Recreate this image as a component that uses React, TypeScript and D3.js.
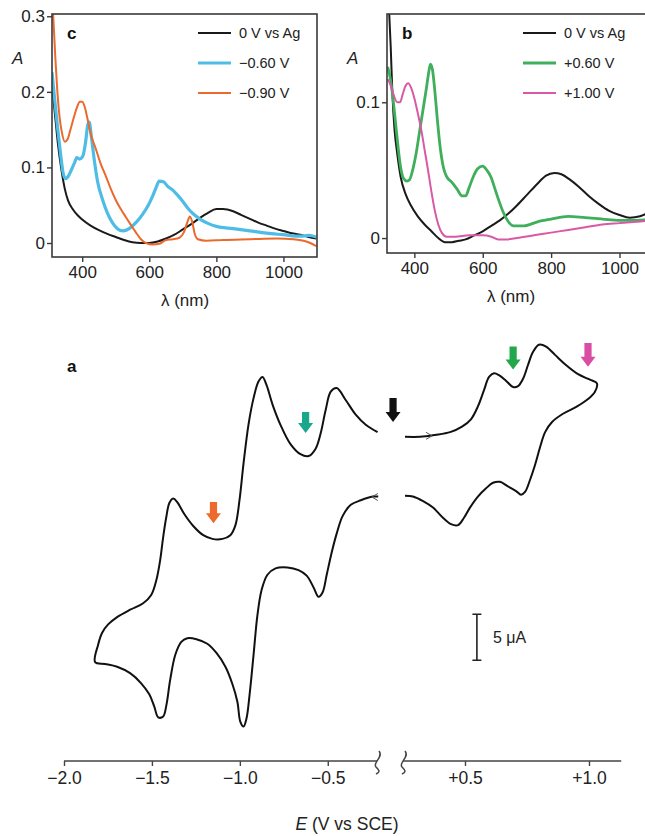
import React, { useEffect, useRef } from 'react';
import * as d3 from 'd3';

const W = 645;
const H = 836;
const FONT = '"Liberation Sans", Arial, Helvetica, sans-serif';

// panel c spectra, [wavelength nm, absorbance]
const cZero = [[312, 0.2], [320, 0.165], [328, 0.13], [338, 0.097], [348, 0.072], [358, 0.056], [373, 0.044], [388, 0.036], [400, 0.031], [425, 0.023], [450, 0.017], [475, 0.012], [500, 0.008], [525, 0.004], [550, 0.001], [575, 0.0], [600, 0.0], [625, 0.002], [650, 0.006], [675, 0.011], [700, 0.018], [725, 0.025], [750, 0.033], [775, 0.04], [800, 0.045], [820, 0.045], [850, 0.042], [875, 0.037], [900, 0.032], [925, 0.027], [950, 0.023], [975, 0.019], [1000, 0.016], [1025, 0.013], [1050, 0.011], [1075, 0.008], [1098, 0.006]];
const cMinus060 = [[310, 0.226], [318, 0.19], [326, 0.155], [335, 0.12], [343, 0.093], [350, 0.085], [358, 0.088], [368, 0.097], [377, 0.106], [384, 0.113], [392, 0.111], [402, 0.115], [410, 0.133], [417, 0.157], [421, 0.16], [427, 0.142], [436, 0.11], [446, 0.081], [461, 0.057], [475, 0.04], [490, 0.027], [505, 0.019], [522, 0.016], [540, 0.019], [560, 0.027], [580, 0.038], [597, 0.05], [610, 0.062], [620, 0.073], [630, 0.082], [642, 0.081], [655, 0.075], [670, 0.07], [685, 0.063], [700, 0.055], [715, 0.046], [730, 0.039], [750, 0.032], [775, 0.026], [800, 0.022], [850, 0.019], [900, 0.016], [950, 0.013], [1000, 0.011], [1050, 0.009], [1075, 0.01], [1098, 0.008]];
const cMinus090 = [[313, 0.305], [316, 0.28], [320, 0.245], [326, 0.2], [333, 0.165], [340, 0.145], [348, 0.134], [356, 0.137], [365, 0.15], [375, 0.166], [385, 0.18], [393, 0.187], [400, 0.187], [407, 0.181], [415, 0.166], [425, 0.145], [441, 0.124], [455, 0.105], [471, 0.088], [485, 0.072], [500, 0.057], [515, 0.045], [529, 0.035], [545, 0.024], [560, 0.014], [575, 0.005], [590, 0.0], [610, -0.002], [630, -0.001], [650, 0.004], [670, 0.005], [690, 0.007], [703, 0.014], [713, 0.027], [721, 0.035], [728, 0.028], [735, 0.013], [745, 0.005], [770, 0.003], [820, 0.004], [900, 0.005], [980, 0.006], [1030, 0.005], [1060, 0.003], [1080, 0.0], [1098, -0.004]];

// panel b spectra
const bZero = [[326, 0.168], [331, 0.14], [336, 0.105], [342, 0.08], [350, 0.062], [360, 0.045], [375, 0.032], [390, 0.024], [410, 0.016], [430, 0.01], [450, 0.005], [470, 0.0], [490, -0.003], [510, -0.003], [530, -0.002], [550, -0.001], [575, 0.002], [600, 0.005], [625, 0.009], [650, 0.013], [675, 0.018], [700, 0.024], [730, 0.032], [760, 0.04], [785, 0.046], [810, 0.048], [830, 0.047], [855, 0.043], [880, 0.038], [910, 0.031], [940, 0.025], [970, 0.02], [1000, 0.017], [1030, 0.015], [1060, 0.016], [1080, 0.018], [1100, 0.019]];
const bPlus060 = [[322, 0.126], [330, 0.117], [337, 0.104], [345, 0.085], [352, 0.068], [360, 0.052], [368, 0.044], [378, 0.042], [386, 0.043], [395, 0.05], [405, 0.062], [415, 0.078], [425, 0.094], [435, 0.11], [442, 0.122], [447, 0.128], [453, 0.124], [460, 0.108], [467, 0.088], [475, 0.068], [485, 0.052], [495, 0.045], [510, 0.041], [525, 0.036], [540, 0.031], [550, 0.031], [560, 0.037], [572, 0.045], [585, 0.051], [600, 0.053], [612, 0.05], [624, 0.045], [636, 0.036], [648, 0.027], [660, 0.019], [675, 0.012], [690, 0.009], [720, 0.009], [760, 0.012], [800, 0.014], [850, 0.016], [900, 0.015], [950, 0.014], [1000, 0.013], [1050, 0.013], [1100, 0.014]];
const bPlus100 = [[322, 0.117], [330, 0.113], [340, 0.105], [350, 0.1], [358, 0.1], [366, 0.106], [374, 0.112], [382, 0.114], [390, 0.111], [400, 0.103], [410, 0.092], [420, 0.08], [430, 0.065], [440, 0.05], [450, 0.034], [460, 0.02], [470, 0.01], [480, 0.004], [495, 0.001], [520, 0.001], [560, 0.002], [600, 0.002], [625, 0.001], [645, -0.001], [670, -0.001], [700, 0.0], [750, 0.002], [800, 0.004], [850, 0.006], [900, 0.008], [950, 0.01], [1000, 0.011], [1050, 0.012], [1100, 0.013]];

const cLegend = ['0 V vs Ag', '\u22120.60 V', '\u22120.90 V'];
const bLegend = ['0 V vs Ag', '+0.60 V', '+1.00 V'];
const lambdaTicks = [400, 600, 800, 1000];
const cATicks = [0, 0.1, 0.2, 0.3];
const bATicks = [0, 0.1];

// panel a cyclic voltammogram, [E V vs SCE, current uA]
const cvNegative = [[-0.21, 5.2], [-0.284, 6.0], [-0.341, 7.1], [-0.398, 8.7], [-0.449, 10.0], [-0.483, 9.6], [-0.512, 7.6], [-0.54, 5.1], [-0.569, 3.4], [-0.609, 2.6], [-0.655, 2.8], [-0.712, 3.9], [-0.769, 6.0], [-0.814, 8.2], [-0.848, 10.3], [-0.871, 11.2], [-0.894, 10.7], [-0.922, 8.9], [-0.951, 6.0], [-0.979, 1.8], [-1.002, -2.2], [-1.025, -4.9], [-1.054, -6.0], [-1.099, -6.4], [-1.156, -6.4], [-1.208, -6.0], [-1.265, -5.0], [-1.316, -3.7], [-1.356, -2.4], [-1.379, -2.0], [-1.401, -2.5], [-1.418, -4.0], [-1.436, -6.2], [-1.453, -8.7], [-1.475, -10.9], [-1.504, -12.5], [-1.55, -13.4], [-1.624, -14.1], [-1.698, -14.9], [-1.749, -15.7], [-1.783, -16.6], [-1.806, -17.9], [-1.823, -19.8], [-1.766, -20.0], [-1.698, -20.3], [-1.624, -21.0], [-1.561, -22.1], [-1.515, -23.3], [-1.487, -24.6], [-1.464, -25.8], [-1.436, -25.7], [-1.418, -24.5], [-1.396, -21.7], [-1.367, -19.0], [-1.333, -17.6], [-1.299, -17.2], [-1.247, -17.3], [-1.185, -17.8], [-1.133, -18.8], [-1.082, -20.3], [-1.042, -22.2], [-1.014, -24.1], [-0.997, -26.3], [-0.979, -26.8], [-0.962, -25.9], [-0.945, -23.4], [-0.922, -19.0], [-0.9, -14.7], [-0.877, -12.0], [-0.843, -10.3], [-0.797, -9.6], [-0.729, -9.5], [-0.666, -9.8], [-0.62, -10.4], [-0.58, -11.7], [-0.552, -12.7], [-0.529, -12.2], [-0.506, -10.3], [-0.478, -7.9], [-0.449, -5.8], [-0.415, -3.9], [-0.369, -2.7], [-0.312, -2.2], [-0.244, -1.8], [-0.198, -1.8]];
const cvPositive = [[0.258, 4.7], [0.319, 4.7], [0.379, 4.9], [0.44, 5.2], [0.488, 5.8], [0.524, 6.6], [0.552, 8.0], [0.577, 9.8], [0.597, 11.2], [0.617, 11.6], [0.637, 11.4], [0.665, 10.8], [0.694, 10.1], [0.714, 10.2], [0.734, 11.0], [0.754, 12.5], [0.774, 13.9], [0.798, 14.7], [0.827, 14.5], [0.863, 13.6], [0.907, 12.5], [0.956, 11.5], [1.004, 10.9], [1.032, 10.5], [1.024, 9.6], [0.996, 8.8], [0.952, 8.0], [0.895, 7.2], [0.851, 6.3], [0.823, 5.2], [0.802, 3.5], [0.782, 1.6], [0.762, 0.0], [0.742, -1.3], [0.726, -1.6], [0.706, -1.2], [0.673, -0.7], [0.641, -0.2], [0.613, -0.3], [0.585, -0.9], [0.552, -1.8], [0.52, -3.0], [0.496, -4.1], [0.472, -4.9], [0.444, -4.8], [0.411, -4.1], [0.371, -3.0], [0.331, -2.3], [0.29, -1.8], [0.258, -1.7]];

const eTicks = [-2, -1.5, -1, -0.5, 0.5, 1];
const eTickLabels = ['\u22122.0', '\u22121.5', '\u22121.0', '\u22120.5', '+0.5', '+1.0'];
// potential markers: [E, current at tail, current at tip]
const markerE = [-1.15, -0.626, 0.07, 0.694, 0.996];
const markerTop = [-2.4, 7.4, 8.9, 14.5, 14.9];
const markerTip = [-4.7, 5.1, 6.3, 12.0, 12.3];
const markerColors = ['#ee6a2c', '#1aa88c', '#111111', '#22a74c', '#d94ea3'];

const cColors = ['#1a1a1a', '#4ebde6', '#ea6a2e'];
const bColors = ['#1a1a1a', '#3faf5c', '#d959a6'];

const App = () => {
  const svgRef = useRef(null);

  useEffect(() => {
    const svg = d3.select(svgRef.current);
    svg.selectAll('*').remove();

    const drawSpectra = (id, box, xDomain, yDomain, yTicks, series, colors, widths, legend, letter) => {
      const x = d3.scaleLinear().domain(xDomain).range([box.left, box.right]);
      const y = d3.scaleLinear().domain(yDomain).range([box.bottom, box.top]);
      const g = svg.append('g');

      g.append('clipPath').attr('id', id)
        .append('rect')
        .attr('x', box.left).attr('y', box.top)
        .attr('width', box.right - box.left).attr('height', box.bottom - box.top);

      const line = d3.line().x(d => x(d[0])).y(d => y(d[1])).curve(d3.curveMonotoneX);
      const lines = g.append('g').attr('clip-path', `url(#${id})`);
      series.forEach((s, k) => {
        lines.append('path')
          .attr('d', line(s))
          .attr('fill', 'none')
          .attr('stroke', colors[k])
          .attr('stroke-width', widths[k])
          .attr('stroke-linejoin', 'round');
      });

      g.append('rect')
        .attr('x', box.left).attr('y', box.top)
        .attr('width', box.right - box.left).attr('height', box.bottom - box.top)
        .attr('fill', 'none').attr('stroke', '#3a3a3a').attr('stroke-width', 1.6);

      const xAxis = g.append('g')
        .attr('transform', `translate(0,${box.bottom})`)
        .call(d3.axisBottom(x).tickValues(lambdaTicks).tickSize(5).tickSizeOuter(0).tickPadding(4)
          .tickFormat(d3.format('d')));
      const yAxis = g.append('g')
        .attr('transform', `translate(${box.left},0)`)
        .call(d3.axisLeft(y).tickValues(yTicks).tickSize(5).tickSizeOuter(0).tickPadding(2)
          .tickFormat(d => (d === 0 ? '0' : d3.format('.1f')(d))));
      [xAxis, yAxis].forEach(a => {
        a.select('.domain').remove();
        a.selectAll('line').attr('stroke', '#3a3a3a').attr('stroke-width', 1.4);
        a.selectAll('text').attr('font-family', FONT).attr('font-size', 17).attr('fill', '#222');
      });

      g.append('text')
        .attr('x', box.left - 40).attr('y', box.top + 50)
        .attr('font-family', FONT).attr('font-style', 'italic').attr('font-size', 17).attr('fill', '#222')
        .text('A');
      g.append('text')
        .attr('x', box.left + 15).attr('y', box.top + 25)
        .attr('font-family', FONT).attr('font-weight', 'bold').attr('font-size', 17).attr('fill', '#111')
        .text(letter);
      g.append('text')
        .attr('x', box.titleX).attr('y', box.bottom + 49)
        .attr('text-anchor', 'middle')
        .attr('font-family', FONT).attr('font-size', 17).attr('fill', '#222')
        .text('\u03bb (nm)');

      legend.forEach((t, k) => {
        const ly = box.top + 19 + k * 30;
        g.append('line')
          .attr('x1', box.legendX).attr('x2', box.legendX + 33)
          .attr('y1', ly).attr('y2', ly)
          .attr('stroke', colors[k]).attr('stroke-width', widths[k]);
        g.append('text')
          .attr('x', box.legendX + 41).attr('y', ly + 5)
          .attr('font-family', FONT).attr('font-size', 14.5).attr('fill', '#222')
          .text(t);
      });
    };

    drawSpectra('clipC', { left: 52, right: 317, top: 14, bottom: 257, legendX: 198, titleX: 185 },
      [310, 1100], [-0.0185, 0.303], cATicks,
      [cZero, cMinus060, cMinus090], cColors, [2, 3.2, 2], cLegend, 'c');
    drawSpectra('clipB', { left: 387, right: 653, top: 14, bottom: 253, legendX: 523, titleX: 511 },
      [320, 1098], [-0.011, 0.165], bATicks,
      [bZero, bPlus060, bPlus100], bColors, [2, 2.8, 2], bLegend, 'b');

    // panel a
    const ex = d3.scaleLinear().domain([-2, -0.22, 0.25, 1]).range([64, 377, 403, 589]);
    const iy = d3.scaleLinear().domain([-30, 20]).range([756, 296]);
    const a = svg.append('g');

    a.append('text')
      .attr('x', 67).attr('y', 372)
      .attr('font-family', FONT).attr('font-weight', 'bold').attr('font-size', 17).attr('fill', '#111')
      .text('a');

    const cvLine = d3.line().x(d => ex(d[0])).y(d => iy(d[1])).curve(d3.curveCatmullRom.alpha(0.5));
    [cvNegative, cvPositive].forEach(s => {
      a.append('path')
        .attr('d', cvLine(s))
        .attr('fill', 'none').attr('stroke', '#111').attr('stroke-width', 2)
        .attr('stroke-linejoin', 'round');
    });

    // sweep direction chevrons
    const chev = (E, i, dir) => {
      const cx = ex(E), cy = iy(i);
      a.append('path')
        .attr('d', `M${cx - 4 * dir},${cy - 3.5}L${cx + 2 * dir},${cy}L${cx - 4 * dir},${cy + 3.5}`)
        .attr('fill', 'none').attr('stroke', '#555').attr('stroke-width', 1);
    };
    chev(0.359, 4.8, 1);
    chev(-0.238, -1.85, -1);

    // coloured potential markers
    markerE.forEach((E, k) => {
      const cx = ex(E), t = iy(markerTop[k]), b = iy(markerTip[k]);
      const hh = 10, sw = 3.6, hw = 7.5;
      a.append('path')
        .attr('d', `M${cx - sw},${t}L${cx + sw},${t}L${cx + sw},${b - hh}L${cx + hw},${b - hh}L${cx},${b}L${cx - hw},${b - hh}L${cx - sw},${b - hh}Z`)
        .attr('fill', markerColors[k]);
    });

    // scale bar 5 uA
    const sbx = ex(0.548);
    const sbTop = iy(-14.6), sbBot = iy(-19.6);
    a.append('path')
      .attr('d', `M${sbx},${sbTop}L${sbx},${sbBot}M${sbx - 4.5},${sbTop}L${sbx + 4.5},${sbTop}M${sbx - 4.5},${sbBot}L${sbx + 4.5},${sbBot}`)
      .attr('stroke', '#222').attr('stroke-width', 1.6).attr('fill', 'none');
    a.append('text')
      .attr('x', sbx + 16).attr('y', (sbTop + sbBot) / 2 + 6)
      .attr('font-family', FONT).attr('font-size', 16).attr('fill', '#222')
      .text('5 \u03bcA');

    // broken potential axis
    const axY = 761;
    const ax = a.append('g').attr('transform', `translate(0,${axY})`)
      .call(d3.axisBottom(ex).tickValues(eTicks).tickSize(5).tickSizeOuter(0).tickPadding(6)
        .tickFormat((d, k) => eTickLabels[k]));
    ax.select('.domain').remove();
    ax.selectAll('line').attr('stroke', '#444').attr('stroke-width', 1.4);
    ax.selectAll('text').attr('font-family', FONT).attr('font-size', 17.5).attr('fill', '#222');

    a.append('path')
      .attr('d', `M${ex(-2)},${axY}L${ex(-0.22)},${axY}M${ex(0.25)},${axY}L${ex(1.13)},${axY}`)
      .attr('stroke', '#444').attr('stroke-width', 1.6).attr('fill', 'none');
    [ex(-0.22), ex(0.25)].forEach(bx => {
      a.append('path')
        .attr('d', `M${bx + 2},${axY - 10}C${bx + 7},${axY - 4} ${bx - 5},${axY + 2} ${bx - 1},${axY + 6}S${bx + 3},${axY + 11} ${bx - 1},${axY + 13}`)
        .attr('stroke', '#444').attr('stroke-width', 1.5).attr('fill', 'none');
    });

    const title = a.append('text')
      .attr('x', 347).attr('y', 830)
      .attr('text-anchor', 'middle')
      .attr('font-family', FONT).attr('font-size', 17.5).attr('fill', '#222');
    title.append('tspan').attr('font-style', 'italic').text('E');
    title.append('tspan').text(' (V vs SCE)');
  }, []);

  return (
    <svg
      ref={svgRef}
      width={W}
      height={H}
      style={{ position: 'absolute', left: 0, top: 0, background: '#fff' }}
    ></svg>
  );
};

export default App;
